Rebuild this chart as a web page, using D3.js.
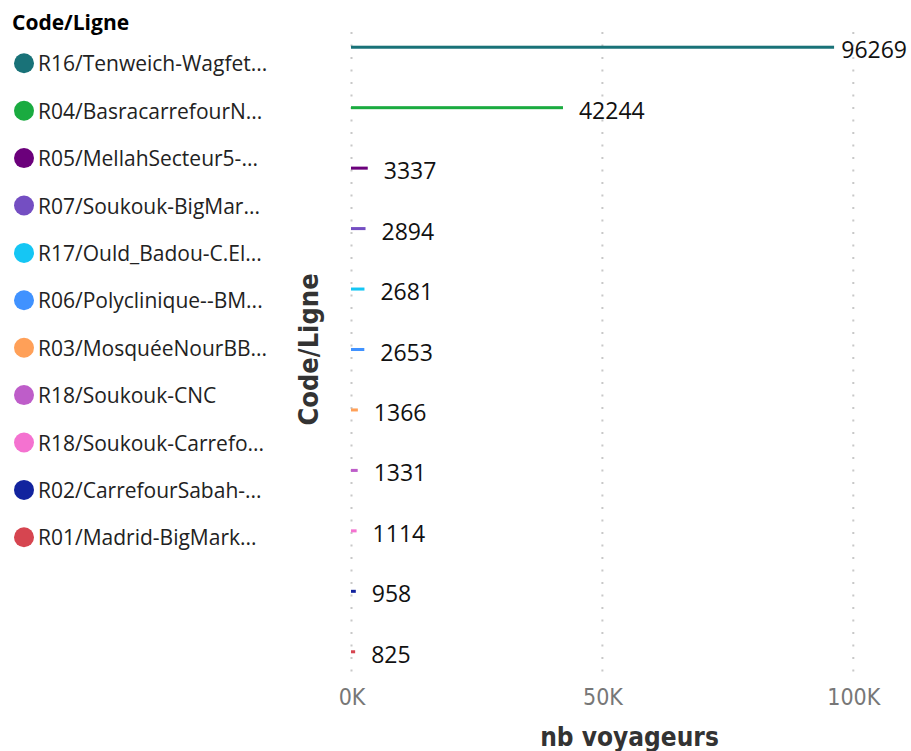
<!DOCTYPE html>
<html>
<head>
<meta charset="utf-8">
<script src="https://cdn.jsdelivr.net/npm/d3@7"></script>
<style>
body { margin: 0; background: #fff; }
</style>
</head>
<body>
<script>
// data
var lignes = [
  "R16/Tenweich-Wagfet...",
  "R04/BasracarrefourN...",
  "R05/MellahSecteur5-...",
  "R07/Soukouk-BigMar...",
  "R17/Ould_Badou-C.El...",
  "R06/Polyclinique--BM...",
  "R03/MosquéeNourBB...",
  "R18/Soukouk-CNC",
  "R18/Soukouk-Carrefo...",
  "R02/CarrefourSabah-...",
  "R01/Madrid-BigMark..."
];
var voyageurs = [96269, 42244, 3337, 2894, 2681, 2653, 1366, 1331, 1114, 958, 825];
var xTicks = [0, 50000, 100000];
var xTickLabels = ["0K", "50K", "100K"];

// one colour per line
var couleurs = ["#197278", "#1AAB40", "#6B007B", "#744EC2", "#15C6F4", "#4092FF",
                "#FFA058", "#BE5DC9", "#F472D0", "#12239E", "#D64550"];

var width = 911, height = 751;
var plot = {left: 351, right: 908, top: 17, bottom: 682};

var data = lignes.map(function(l, i) { return {ligne: l, value: voyageurs[i]}; });

var svg = d3.select("body").append("svg")
    .attr("width", width)
    .attr("height", height);

var xScale = d3.scaleLinear().domain([0, 111000]).range([plot.left, plot.right]);
var yScale = d3.scaleBand().domain(lignes)
    .range([plot.top, plot.bottom])
    .paddingInner(0.95)
    .paddingOuter(0.475);
var color = d3.scaleOrdinal().domain(lignes).range(couleurs);

// dotted vertical gridlines
svg.append("g").selectAll("line")
    .data(xTicks)
    .enter().append("line")
    .attr("x1", d => xScale(d) + 0.5)
    .attr("x2", d => xScale(d) + 0.5)
    .attr("y1", 32)
    .attr("y2", 678)
    .attr("stroke", "#c8c8c8")
    .attr("stroke-width", 2)
    .attr("stroke-dasharray", "2,10.5");

// bars
svg.append("g").selectAll("rect")
    .data(data)
    .enter().append("rect")
    .attr("x", xScale(0))
    .attr("y", d => yScale(d.ligne))
    .attr("width", d => xScale(d.value) - xScale(0))
    .attr("height", yScale.bandwidth())
    .attr("fill", d => color(d.ligne));

// data labels
svg.append("g").selectAll("text")
    .data(data)
    .enter().append("text")
    .attr("y", d => yScale(d.ligne) + yScale.bandwidth() / 2 + 3)
    .attr("dy", "0.35em")
    .style("font-family", "'Segoe UI', 'Open Sans', sans-serif")
    .style("font-size", "23px")
    .attr("fill", "#111")
    .text(d => d.value)
    .attr("x", function(d) {
        var w = this.getComputedTextLength();
        return Math.min(xScale(d.value) + 16, 907 - w);
    });

// x axis
var xAxis = svg.append("g")
    .attr("transform", "translate(0," + 697 + ")")
    .call(d3.axisBottom(xScale)
        .tickValues(xTicks)
        .tickSize(0)
        .tickPadding(0)
        .tickFormat((d, i) => xTickLabels[i]));
xAxis.select(".domain").remove();
xAxis.selectAll("text")
    .attr("dy", "0.35em")
    .attr("x", 0.5)
    .style("font-family", "'DejaVu Sans Condensed', sans-serif")
    .style("font-size", "23px")
    .attr("fill", "#777");

svg.append("text")
    .attr("x", (plot.left + plot.right) / 2)
    .attr("y", 746)
    .attr("text-anchor", "middle")
    .style("font-family", "'DejaVu Sans Condensed', sans-serif")
    .style("font-size", "26px")
    .style("font-weight", "bold")
    .attr("fill", "#333")
    .text("nb voyageurs");

// y axis title
svg.append("text")
    .attr("transform", "translate(309," + (plot.top + plot.bottom) / 2 + ") rotate(-90)")
    .attr("text-anchor", "middle")
    .attr("dy", "0.35em")
    .style("font-family", "'DejaVu Sans Condensed', sans-serif")
    .style("font-size", "27px")
    .style("font-weight", "bold")
    .attr("fill", "#333")
    .text("Code/Ligne");

// legend
var legend = svg.append("g");
legend.append("text")
    .attr("x", 12)
    .attr("y", 30)
    .style("font-family", "'Segoe UI', 'Open Sans', sans-serif")
    .style("font-size", "21px")
    .style("font-weight", "bold")
    .attr("fill", "#000")
    .text("Code/Ligne");

var item = legend.selectAll("g.item")
    .data(lignes)
    .enter().append("g")
    .attr("class", "item")
    .attr("transform", (d, i) => "translate(0," + (63.3 + i * 47.4) + ")");
item.append("circle")
    .attr("cx", 24)
    .attr("r", 10)
    .attr("fill", d => color(d));
item.append("text")
    .attr("x", 38)
    .attr("y", 8)
    .style("font-family", "'Segoe UI', 'Open Sans', sans-serif")
    .style("font-size", "21px")
    .attr("fill", "#222")
    .text(d => d);
</script>
</body>
</html>
